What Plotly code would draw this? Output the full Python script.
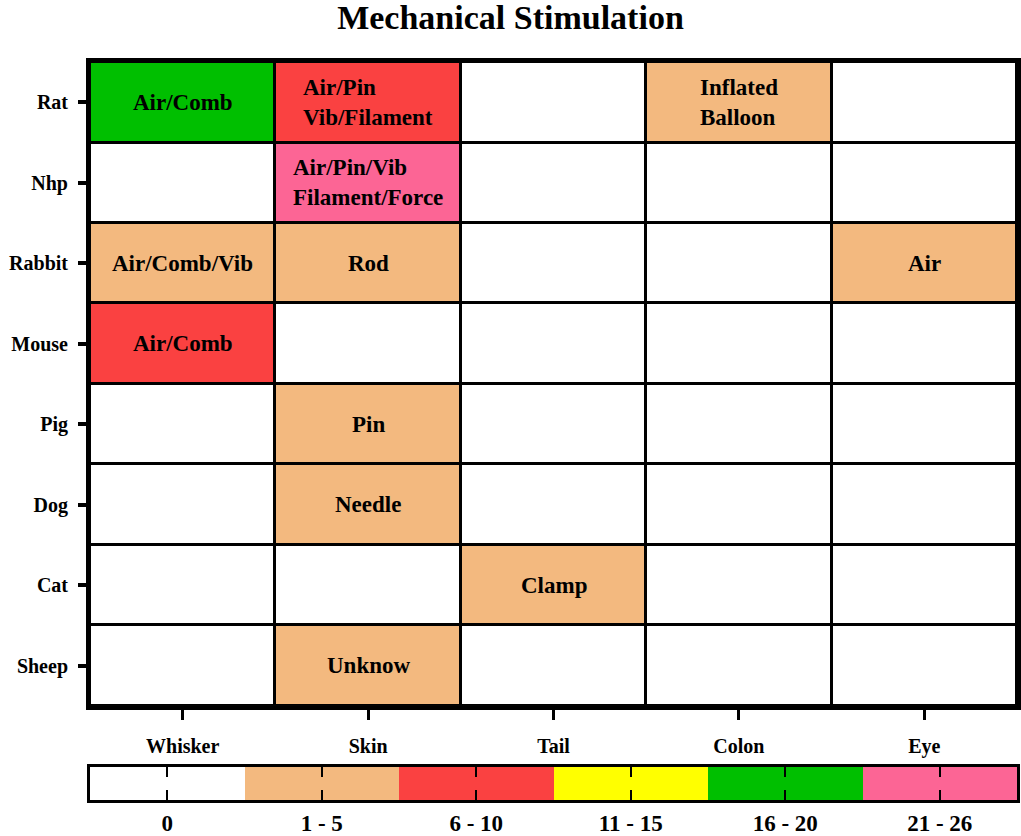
import plotly.graph_objects as go

# categories
sites = ["Whisker", "Skin", "Tail", "Colon", "Eye"]
animals = ["Rat", "Nhp", "Rabbit", "Mouse", "Pig", "Dog", "Cat", "Sheep"]

# level of each cell (index into the count bins below)
levels = [
    [4, 2, 0, 1, 0],  # Rat
    [0, 5, 0, 0, 0],  # Nhp
    [1, 1, 0, 0, 1],  # Rabbit
    [2, 0, 0, 0, 0],  # Mouse
    [0, 1, 0, 0, 0],  # Pig
    [0, 1, 0, 0, 0],  # Dog
    [0, 0, 1, 0, 0],  # Cat
    [0, 1, 0, 0, 0],  # Sheep
]

cell_text = [
    ["Air/Comb", "Air/Pin<br>Vib/Filament", "", "Inflated<br>Balloon", ""],
    ["", "Air/Pin/Vib<br>Filament/Force", "", "", ""],
    ["Air/Comb/Vib", "Rod", "", "", "Air"],
    ["Air/Comb", "", "", "", ""],
    ["", "Pin", "", "", ""],
    ["", "Needle", "", "", ""],
    ["", "", "Clamp", "", ""],
    ["", "Unknow", "", "", ""],
]

bins = ["0", "1 - 5", "6 - 10", "11 - 15", "16 - 20", "21 - 26"]
bin_colors = ["#FFFFFF", "#F3B97F", "#FA4141", "#FFFF00", "#00BF00", "#FC6595"]

n = len(bin_colors)
cscale = []
for k, c in enumerate(bin_colors):
    cscale.append([k / n, c])
    cscale.append([(k + 1) / n, c])

FONT = "Liberation Serif"

fig = go.Figure()

# main grid
fig.add_trace(go.Heatmap(
    z=levels, x=sites, y=animals,
    colorscale=cscale, zmin=-0.5, zmax=n - 0.5,
    showscale=False, xgap=3, ygap=3, hoverinfo="skip",
    xaxis="x", yaxis="y"))

# bottom colour key
fig.add_trace(go.Heatmap(
    z=[list(range(n))], x=bins, y=[""],
    colorscale=cscale, zmin=-0.5, zmax=n - 0.5,
    showscale=False, hoverinfo="skip",
    xaxis="x2", yaxis="y2"))

for i, a in enumerate(animals):
    for j, s in enumerate(sites):
        t = cell_text[i][j]
        if t:
            fig.add_annotation(x=s, y=a, xref="x", yref="y", text=t,
                               showarrow=False, align="left",
                               font=dict(family=FONT, size=23, color="black", weight="bold"))

fig.update_layout(
    width=1021, height=836,
    margin=dict(l=90, r=4, t=62, b=36),
    paper_bgcolor="white", plot_bgcolor="black",
    font=dict(family=FONT, size=20, color="black", weight="bold"),
    title=dict(text="Mechanical Stimulation", x=0.5, xanchor="center", y=0.980, yanchor="middle",
               font=dict(family=FONT, size=34, color="black", weight="bold")),
    xaxis=dict(domain=[0, 1], showline=True, linewidth=4, linecolor="black", mirror=True,
               ticks="outside", ticklen=10, tickwidth=3, tickcolor="black",
               tickfont=dict(size=20), ticklabelstandoff=9, automargin=False,
               showgrid=False, zeroline=False, fixedrange=True),
    yaxis=dict(domain=[0.1274, 1], autorange="reversed", showline=True, linewidth=4,
               linecolor="black", mirror=True, ticks="outside", ticklen=8, tickwidth=4,
               tickcolor="black", tickfont=dict(size=20), ticklabelstandoff=6, automargin=False,
               showgrid=False, zeroline=False, fixedrange=True),
    xaxis2=dict(domain=[0, 1], anchor="y2", showline=True, linewidth=3, linecolor="black",
                mirror="ticks", ticks="inside", ticklen=10, tickwidth=2, tickcolor="black",
                tickfont=dict(size=23), ticklabelstandoff=0, automargin=False,
                showgrid=False, zeroline=False, fixedrange=True),
    yaxis2=dict(domain=[0, 0.0447], anchor="x2", showline=True, linewidth=3, linecolor="black",
                mirror=True, ticks="", showticklabels=False, showgrid=False, zeroline=False,
                automargin=False, fixedrange=True),
)

# the page should start at the window's corner
fig.write_html("out.html", config={"displayModeBar": False},
               post_script="document.body.style.margin='0';document.body.style.overflow='hidden';")
